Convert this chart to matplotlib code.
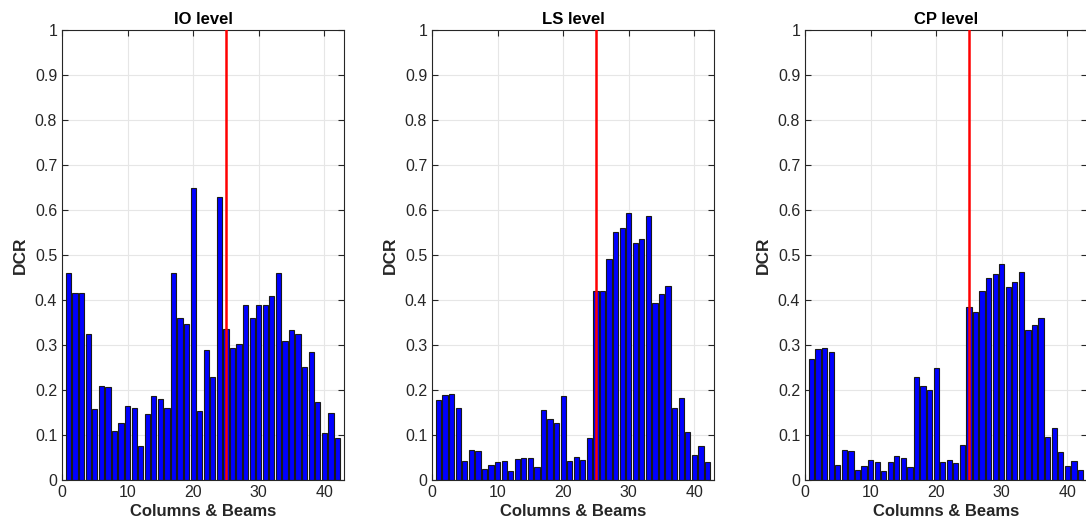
import numpy as np
import matplotlib
matplotlib.use('Agg')
import matplotlib.pyplot as plt

plt.rcParams['font.family'] = ['Liberation Sans', 'DejaVu Sans']

# DCR per element (columns & beams)
io_level = [0.461, 0.416, 0.415, 0.325, 0.158, 0.210, 0.207, 0.109, 0.127, 0.164,
            0.161, 0.075, 0.147, 0.186, 0.179, 0.161, 0.461, 0.360, 0.346, 0.650,
            0.153, 0.290, 0.230, 0.628, 0.335, 0.293, 0.303, 0.390, 0.360, 0.390,
            0.389, 0.410, 0.459, 0.309, 0.333, 0.324, 0.251, 0.284, 0.173, 0.104,
            0.149, 0.093]
ls_level = [0.177, 0.190, 0.192, 0.159, 0.042, 0.066, 0.064, 0.024, 0.034, 0.041,
            0.042, 0.020, 0.046, 0.050, 0.048, 0.030, 0.156, 0.135, 0.127, 0.187,
            0.042, 0.052, 0.044, 0.093, 0.419, 0.421, 0.492, 0.550, 0.561, 0.594,
            0.526, 0.536, 0.587, 0.394, 0.413, 0.432, 0.159, 0.182, 0.106, 0.056,
            0.075, 0.041]
cp_level = [0.269, 0.291, 0.293, 0.284, 0.033, 0.066, 0.065, 0.023, 0.032, 0.044,
            0.041, 0.020, 0.039, 0.054, 0.048, 0.028, 0.228, 0.208, 0.199, 0.250,
            0.039, 0.044, 0.038, 0.077, 0.385, 0.374, 0.419, 0.449, 0.458, 0.480,
            0.430, 0.440, 0.462, 0.334, 0.345, 0.359, 0.095, 0.116, 0.062, 0.032,
            0.042, 0.023]
titles = ['IO level', 'LS level', 'CP level']
split_at = 25

elements = np.arange(1, len(io_level) + 1)
txt = '#262626'

fig = plt.figure(figsize=(10.86, 5.27), dpi=100)
lefts = [62 / 1086, 432 / 1086, 805 / 1086]
w = 282 / 1086
b = 47 / 527
h = 450 / 527

for left, vals, title in zip(lefts, [io_level, ls_level, cp_level], titles):
    ax = fig.add_axes([left, b, w, h])
    ax.bar(elements, vals, width=0.8, color='#0000ff', edgecolor='#1a1a1a',
           linewidth=0.8, zorder=2)
    ax.axvline(split_at, color='red', lw=1.8, zorder=3)
    ax.set_xlim(0, 43)
    ax.set_ylim(0, 1)
    ax.set_xticks([0, 10, 20, 30, 40])
    ax.set_yticks(np.arange(0, 1.01, 0.1))
    ax.set_yticklabels(['0'] + ['%.1f' % v for v in np.arange(0.1, 0.95, 0.1)] + ['1'])
    ax.grid(True, color='#e6e6e6', lw=0.8, zorder=0)
    ax.set_axisbelow(True)
    ax.tick_params(direction='in', length=4, labelsize=11.5, colors=txt, width=0.8,
                   top=True, right=True)
    for s in ax.spines.values():
        s.set_color('#262626')
        s.set_linewidth(0.8)
    ax.set_title(title, fontsize=12, fontweight='bold', color='black', pad=4)
    ax.set_xlabel('Columns & Beams', fontsize=12, fontweight='bold', color=txt, labelpad=3)
    ax.set_ylabel('DCR', fontsize=12.5, fontweight='bold', color=txt, labelpad=5)

fig.savefig('out.png', dpi=100)
